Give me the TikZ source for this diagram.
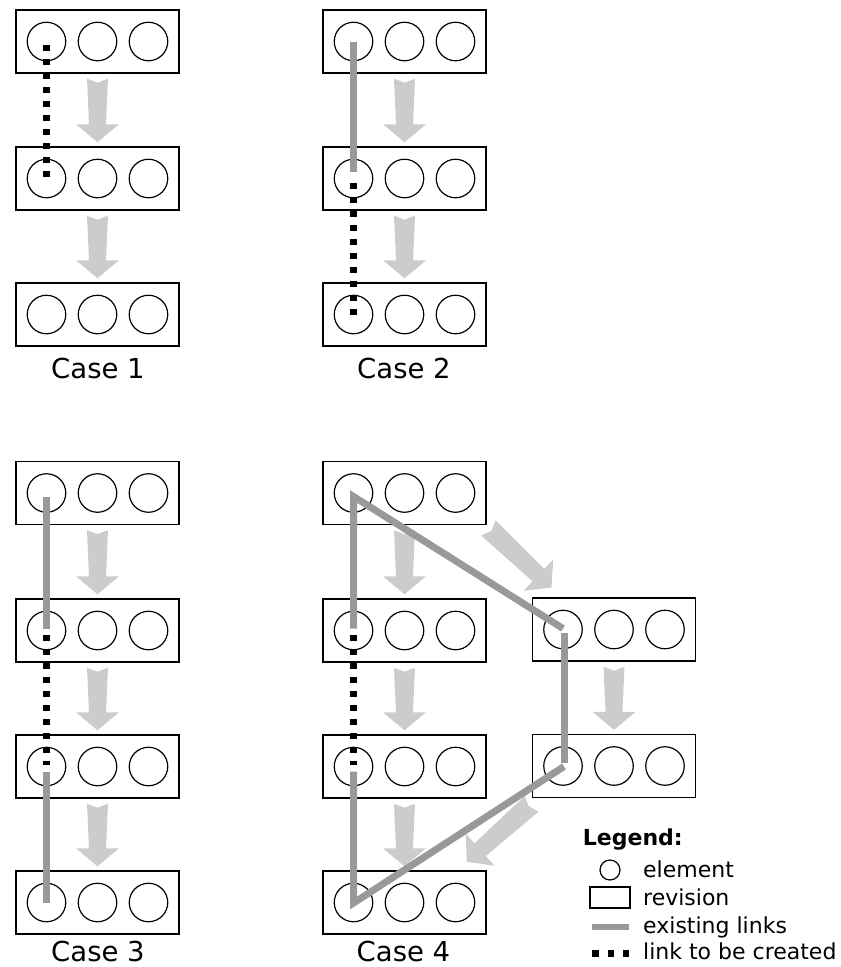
\documentclass[tikz,border=0pt]{standalone}
\usepackage{fontspec}
\setmainfont{DejaVu Sans}
\usetikzlibrary{calc}
\definecolor{arrowgray}{HTML}{CCCCCC}
\definecolor{linkgray}{HTML}{999999}
\tikzset{
  revbox/.style={draw=black, line width=1.4pt, minimum width=163pt, minimum height=63pt, inner sep=0pt},
  elem/.style={draw=black, line width=1.2pt, circle, minimum size=38.5pt, inner sep=0pt},
  existlink/.style={draw=linkgray, line width=7pt, line join=miter},
  newlink/.style={draw=black, line width=6.5pt, dash pattern=on 5.5pt off 8.5pt},
  fatarr/.style={fill=arrowgray, draw=none},
  caselabel/.style={font=\fontsize{27.5}{32}\selectfont, anchor=base, inner sep=0pt},
  legtext/.style={font=\fontsize{22}{26}\selectfont, anchor=base west, inner sep=0pt},
}
\newcommand{\revision}[3]{%
  \node[revbox] (#1) at (#2,#3) {};
  \node[elem] (#1a) at ($(#1)+(-51,0)$) {};
  \node[elem] (#1b) at (#1) {};
  \node[elem] (#1c) at ($(#1)+(51,0)$) {};
}
\newcommand{\fatarrow}[2]{%
  \coordinate (#1h) at ($(#2)!18pt!(#1)$);
  \fill[fatarr] ($(#1)!10.5pt!90:(#2)$) -- ($(#1)!4pt!(#2)$) -- ($(#1)!10.5pt!-90:(#2)$)
    -- ($(#1h)!8.5pt!-90:(#2)$) -- ($(#1h)!21.5pt!-90:(#2)$) -- (#2)
    -- ($(#1h)!21.5pt!90:(#2)$) -- ($(#1h)!8.5pt!90:(#2)$) -- cycle;
}
\newcommand{\downarr}[2]{%
  \coordinate (#1s) at ($(#1.south)+(0,5)$);
  \coordinate (#2n) at ($(#2.north)+(0,-4)$);
  \fatarrow{#1s}{#2n}
}
\begin{document}
\begin{tikzpicture}[x=1pt,y=-1pt]
\useasboundingbox (0,0) rectangle (841,967);

% ---------- revisions ----------
\revision{c1r1}{97.5}{41.5}
\revision{c1r2}{97.5}{178.5}
\revision{c1r3}{97.5}{314.5}
\revision{c2r1}{404.5}{41.5}
\revision{c2r2}{404.5}{178.5}
\revision{c2r3}{404.5}{314.5}
\revision{c3r1}{97.5}{493}
\revision{c3r2}{97.5}{630.5}
\revision{c3r3}{97.5}{766.5}
\revision{c3r4}{97.5}{902.5}
\revision{c4r1}{404.5}{493}
\revision{c4r2}{404.5}{630.5}
\revision{c4r3}{404.5}{766.5}
\revision{c4r4}{404.5}{902.5}
\revision{c4s1}{614}{629.5}
\revision{c4s2}{614}{766}

% ---------- revision arrows ----------
\downarr{c1r1}{c1r2}
\downarr{c1r2}{c1r3}
\downarr{c2r1}{c2r2}
\downarr{c2r2}{c2r3}
\downarr{c3r1}{c3r2}
\downarr{c3r2}{c3r3}
\downarr{c3r3}{c3r4}
\downarr{c4r1}{c4r2}
\downarr{c4r2}{c4r3}
\downarr{c4r3}{c4r4}
\downarr{c4s1}{c4s2}
\coordinate (d1a) at (488.5,528);
\coordinate (d1b) at (551.5,587.5);
\fatarrow{d1a}{d1b}
\coordinate (d2a) at (531.7,803.7);
\coordinate (d2b) at (466.7,861.7);
\fatarrow{d2a}{d2b}

% ---------- links ----------
% Case 1
\draw[newlink] ($(c1r1a.center)+(0,3.5)$) -- ($(c1r2a.center)+(0,-2)$);
% Case 2
\draw[existlink] ($(c2r1a.center)+(0,0.5)$) -- ($(c2r2a.center)+(0,-7)$);
\draw[newlink] ($(c2r2a.center)+(0,4.5)$) -- ($(c2r3a.center)+(0,0.5)$);
% Case 3
\draw[existlink] ($(c3r1a.center)+(0,3.7)$) -- ($(c3r2a.center)+(0,-2)$);
\draw[newlink] ($(c3r2a.center)+(0,4.5)$) -- ($(c3r3a.center)+(0,-1.5)$);
\draw[existlink] ($(c3r3a.center)+(0,5)$) -- ($(c3r4a.center)+(0,0.5)$);
% Case 4
\draw[existlink] ($(c4r2a.center)+(0,-2)$) -- ($(c4r1a.center)+(0,3.5)$) -- ($(c4s1a.center)+(0,-1)$);
\draw[existlink] ($(c4s1a.center)+(1.5,3.5)$) -- ($(c4s2a.center)+(1.5,-3)$);
\draw[newlink] ($(c4r2a.center)+(0,4.5)$) -- ($(c4r3a.center)+(0,-1.5)$);
\draw[existlink] ($(c4r3a.center)+(0,5)$) -- ($(c4r4a.center)+(0,0.5)$) -- ($(c4s2a.center)+(1,0.5)$);

% ---------- case labels ----------
\node[caselabel] (lab1) at (98,378) {Case 1};
\node[caselabel] (lab2) at (404,378) {Case 2};
\node[caselabel] (lab3) at (98,961.7) {Case 3};
\node[caselabel] (lab4) at (403.5,961.7) {Case 4};

% ---------- legend ----------
\node[legtext, font=\fontsize{22}{26}\selectfont\bfseries] (legtitle) at (582.7,845.7) {Legend:};
\node[draw=black, line width=1.2pt, circle, minimum size=20pt, inner sep=0pt] (legcirc) at (610,870) {};
\node[draw=black, line width=1.4pt, minimum width=40pt, minimum height=21pt, inner sep=0pt] (legrect) at (610,897.5) {};
\coordinate (legl1) at (592,927);
\coordinate (legl2) at (629,927);
\draw[draw=linkgray, line width=6.5pt] (legl1) -- (legl2);
\coordinate (legd1) at (592.3,953.5);
\coordinate (legd2) at (629,953.5);
\draw[black, line width=6.5pt, dash pattern=on 6.7pt off 8.5pt] (legd1) -- (legd2);
\node[legtext] (legt1) at (643,877.3) {element};
\node[legtext] (legt2) at (643,905.5) {revision};
\node[legtext] (legt3) at (643,933) {existing links};
\node[legtext] (legt4) at (643,959.5) {link to be created};
\end{tikzpicture}
\end{document}
